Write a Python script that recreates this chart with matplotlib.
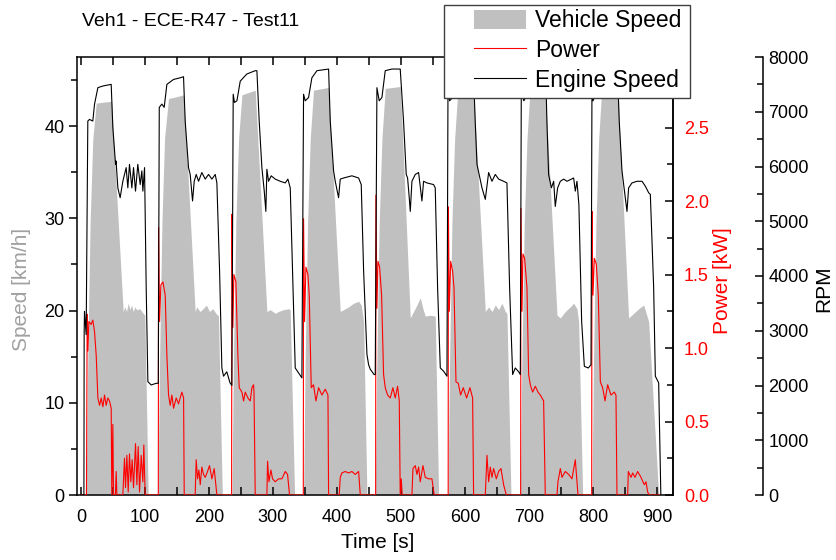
import matplotlib
matplotlib.use('Agg')
from matplotlib import pyplot as plt
from matplotlib.ticker import MultipleLocator, FormatStrFormatter
from matplotlib.patches import Patch, Rectangle
from matplotlib.lines import Line2D

plt.rcParams['font.family'] = ['Liberation Sans', 'DejaVu Sans']

# vehicle speed [km/h], read per cycle
speed_t = [0, 8.3, 10.9, 14.5, 18.7, 24, 35, 48, 50.5, 66.2, 68.8, 71.4, 74, 76.6, 79.2, 81.8, 84.4, 87, 92.2, 97.4, 100, 105.2,
           120.4, 123.1, 126.7, 130.8, 137, 150, 160.4, 163, 178.6, 181, 186, 191, 196, 201, 206, 211, 215, 221,
           236, 238.5, 242.2, 246.4, 251.6, 272.4, 275, 290.6, 295.8, 303.6, 308.9, 316.7, 324.5, 327, 333.9,
           347.9, 350.5, 354.2, 358.3, 363.5, 387, 389.6, 405.2, 410.4, 418.2, 426, 433.9, 438, 441.7, 446.9,
           459.9, 462.5, 466.1, 470.3, 475.5, 498.9, 501.6, 514.6, 519.8, 525, 530.2, 534.4, 538, 545.8, 553.6, 558.9,
           573.5, 576.1, 579.7, 583.9, 589.1, 613.5, 616.1, 631.8, 637, 642.2, 647.4, 652.6, 657.8, 663, 665.6, 671.9,
           686.5, 689.1, 692.7, 696.9, 702.1, 725.5, 728, 743.8, 749, 756.8, 764.6, 769.8, 775, 777.6, 783.9,
           798.4, 801, 804.7, 808.9, 814.1, 839.1, 841.1, 855.7, 863.5, 871.4, 879.2, 887, 902.6, 925]
speed_v = [0, 0, 15.2, 29.6, 38.6, 42.5, 42.6, 42.7, 39.4, 19.9, 20.4, 19.9, 20.8, 20.1, 20.6, 19.9, 20.4, 20.1, 20.2, 19.7, 19.5, 0,
           0, 15.2, 29.6, 38.7, 43.0, 43.2, 43.4, 40.5, 19.9, 20.4, 19.9, 20.2, 20.6, 19.9, 20.2, 19.7, 19.4, 0,
           0, 15.2, 29.6, 38.6, 43.4, 43.9, 40.5, 19.9, 20.1, 19.7, 19.9, 20.1, 20.2, 20.1, 0,
           0, 15.2, 29.6, 38.6, 43.9, 44.2, 40.5, 19.9, 20.1, 20.4, 20.8, 21.0, 20.6, 18.8, 0,
           0, 15.2, 29.6, 38.6, 44.1, 44.3, 40.5, 19.2, 19.9, 20.6, 21.4, 20.2, 19.4, 19.5, 19.4, 0,
           0, 15.2, 29.6, 38.6, 44.1, 44.3, 40.5, 19.9, 20.4, 19.9, 20.6, 20.1, 20.8, 19.9, 19.7, 0,
           0, 15.2, 29.6, 38.6, 44.5, 44.6, 40.5, 19.5, 19.2, 19.9, 20.4, 20.8, 20.2, 18.8, 0,
           0, 15.2, 29.6, 38.6, 44.5, 44.6, 40.5, 19.2, 19.7, 20.2, 20.6, 18.8, 0, 0]

# engine speed [rpm]
rpm_t = [0, 4.8, 5.2, 5.7, 8.3, 10.9, 13.5, 18.7, 21.4, 26.6, 34.4, 47.4, 50, 54.2, 55, 57.8, 61.4, 65.6, 70.8, 73.4, 76,
         79.7, 82.3, 85.4, 89, 92.7, 95.3, 96.9, 99.5, 102.1, 104.7, 109.9, 117.7,
         121, 122.5, 126.6, 130.2, 134.4, 144.8, 155.2, 160.4, 163, 168.2, 170.8, 174.5, 177.1, 180.2, 183.9, 189, 194.3,
         199.5, 204.7, 209.9, 212.5, 216.7, 220.3, 222.9, 228, 233,
         235.9, 238, 240, 243.8, 249, 259.4, 272.4, 275, 278.6, 282.8, 286.5, 289, 290.6, 293.2, 297.4, 303.6, 311.5,
         319.3, 323.4, 327.1, 330.7, 334.9, 340.1, 345.3,
         347.9, 350.5, 355.7, 360.9, 368.8, 387, 389.6, 394.8, 397.4, 402.6, 405.2, 410.4, 423.4, 433.9, 438, 441.7,
         446.9, 449.5, 452, 458,
         459.9, 462.5, 466.1, 470.3, 475.5, 485.9, 498.9, 504.1, 508.3, 510.4, 513, 514.6, 517.2, 522.4, 527.6, 532.8,
         535.4, 540.6, 551, 553.6, 557.3, 561.5, 566.7, 571.9,
         573.5, 576, 580, 584, 589, 600, 613, 616, 618.8, 626.6, 631.8, 637, 642.2, 647.4, 652.6, 660.4, 665.6, 669.8,
         674.5, 678.6, 684,
         686.5, 688, 692, 697, 702, 712, 726, 728, 730.7, 735, 738.6, 741.1, 744.8, 749, 754.2, 759.4, 769.8, 772.4,
         775, 778, 782.3, 786.5, 792.7, 796.9,
         798.4, 800, 804, 809, 814, 825, 838, 841, 845.3, 850.5, 853.1, 855.7, 860.9, 868.8, 876.6, 881.8, 887, 889.6,
         894.8, 897.4, 902.6, 906]
rpm_v = [0, 0, 2990, 3355, 2930, 6830, 6860, 6830, 7140, 7440, 7470, 7500, 6710, 6040, 6100, 5610, 5430, 5730, 5980, 5610, 6040,
         5610, 5980, 5550, 6040, 5670, 5920, 5550, 5980, 3780, 2070, 2010, 2040,
         2040, 7080, 7140, 7080, 7500, 7590, 7620, 7640, 6830, 5980, 5855, 5370, 5730, 5855, 5730, 5890, 5770,
         5855, 5770, 5855, 5700, 4100, 2320, 2170, 2250, 2050,
         2000, 7320, 7170, 7200, 7560, 7690, 7750, 7750, 6830, 5980, 5550, 5180, 5950, 5730, 5830, 5770, 5730,
         5700, 5770, 5610, 4100, 2320, 2230, 2140,
         7320, 7200, 7260, 7620, 7750, 7780, 6830, 5920, 5730, 5430, 5770, 5790, 5830, 5790, 5670, 4100,
         2570, 2380, 2300, 2200,
         2200, 7440, 7200, 7260, 7750, 7780, 7780, 6830, 5855, 5790, 5430, 5180, 5730, 5855, 5890, 5370,
         5730, 5700, 5670, 5610, 3780, 2320, 2260, 2170,
         7400, 7200, 7250, 7750, 7780, 7800, 7800, 6830, 6040, 5610, 5400, 5890, 5730, 5855, 5770, 5730, 5700, 3780,
         2200, 2320, 2250,
         2200, 7350, 7200, 7300, 7750, 7800, 7800, 6830, 5855, 5610, 5730, 5270, 5610, 5730, 5770, 5730, 5790, 5550,
         5730, 5300, 3170, 2350, 2320, 2380,
         7350, 7200, 7300, 7750, 7800, 7800, 7800, 6830, 5920, 5430, 5180, 5610, 5700, 5730, 5730, 5640, 5520, 5490,
         3780, 2170, 2050, 0]

# power [kW]
power_t = [0, 8.8, 9.9, 11, 12.5, 16.1, 18.7, 21.4, 24, 26.6, 29.2, 31.8, 34.4, 37, 39.6, 42.2, 44.8, 47.4, 48.4, 50, 51, 54,
           55.2, 56.3, 65.6, 68.2, 69.8, 71.9, 74, 76, 78.1, 80.2, 82.3, 85.4, 87.5, 89.6, 91.7, 94.3, 96.9, 98.4, 100.5,
           121, 121.4, 123, 125, 128.2, 131.8, 134.4, 137, 139.6, 142.2, 144.8, 149, 152.6, 157.8, 160.5, 161.5, 178.6,
           180.2, 182.3, 184.4, 186.5, 189, 191.7, 194.3, 197.9, 201, 204.7, 208.3, 212.5,
           235.5, 236, 237.5, 239, 242.2, 245.3, 247.4, 251.6, 254.2, 256.8, 261, 264.6, 267.2, 269.8, 270.5, 272.4, 290.6,
           291.7, 293.8, 296.9, 299.5, 303.6, 308.9, 314.1, 319.3, 322.9, 326,
           347.5, 347.9, 349.5, 351.6, 354.7, 356.8, 359.9, 363.5, 367.2, 371.4, 376.6, 381.8, 386, 387, 403.6, 405.2,
           407.8, 413, 418.2, 423.4, 428.6, 433.9, 436.5,
           460.5, 460.9, 462.5, 464.1, 466.7, 469.8, 472.9, 475.5, 479.2, 483.3, 487.5, 491.1, 494.8, 497.4, 498.9, 500.5,
           502, 517.2, 518.8, 522.4, 525, 527.6, 530.2, 534.4, 538, 543.2, 548.4, 552,
           573.8, 574.1, 575.6, 577.7, 580.8, 582.9, 586, 589.6, 593.2, 597.4, 602.6, 607.8, 612, 613.5, 631.8, 634.4,
           637, 639.6, 642.2, 644.8, 649, 652.6, 656.3, 660.4, 664.6,
           687, 687.5, 689.1, 690.6, 693.2, 696.9, 699.5, 702.1, 705.7, 709.9, 714.1, 717.7, 722.9, 725.5, 743.8, 745.3,
           749, 751.6, 756.8, 762, 767.2, 772.4, 775, 776.6,
           798, 798.4, 800, 802.1, 805.2, 808.3, 811.5, 815.1, 818.8, 822.9, 828.1, 833.3, 835.9, 837.5, 854.2, 855.2,
           859.4, 862, 865.6, 869.8, 875, 880.2, 882.8, 885.4, 888, 905]
power_v = [0, 0, 1.23, 0.98, 1.18, 1.16, 1.19, 1.11, 0.95, 0.66, 0.61, 0.66, 0.60, 0.68, 0.61, 0.66, 0.64, 0.59, 0, 0.48, 0, 0,
           0.16, 0, 0, 0.25, 0.05, 0.27, 0.02, 0.28, 0.09, 0.24, 0.05, 0.35, 0.07, 0.33, 0.02, 0.27, 0.09, 0.34, 0,
           0, 1.82, 1.18, 1.43, 1.45, 1.36, 0.95, 0.68, 0.61, 0.68, 0.59, 0.66, 0.62, 0.70, 0.66, 0, 0,
           0.24, 0.11, 0.17, 0.07, 0.19, 0.14, 0.12, 0.16, 0.20, 0.11, 0.18, 0,
           0, 1.91, 1.14, 1.50, 1.45, 0.95, 0.73, 0.70, 0.64, 0.70, 0.66, 0.64, 0.73, 0.75, 0.70, 0, 0,
           0.23, 0.09, 0.17, 0.11, 0.09, 0.11, 0.11, 0.16, 0.14, 0,
           0, 1.88, 1.18, 1.55, 1.50, 1.36, 0.73, 0.75, 0.64, 0.73, 0.68, 0.72, 0.68, 0, 0, 0.12,
           0.15, 0.16, 0.15, 0.16, 0.14, 0.16, 0,
           0, 2.04, 1.27, 1.59, 1.55, 1.36, 0.82, 0.73, 0.68, 0.66, 0.73, 0.66, 0.74, 0.64, 0, 0.11,
           0, 0, 0.18, 0.20, 0.14, 0.19, 0.09, 0.20, 0.12, 0.11, 0.11, 0,
           0, 1.96, 1.25, 1.59, 1.52, 1.41, 0.77, 0.76, 0.68, 0.73, 0.66, 0.73, 0.66, 0, 0, 0.27,
           0.09, 0.19, 0.12, 0.18, 0.11, 0.16, 0.18, 0.07, 0,
           0, 1.95, 1.25, 1.64, 1.61, 1.41, 0.82, 0.75, 0.70, 0.74, 0.70, 0.68, 0.64, 0, 0, 0.09,
           0.18, 0.12, 0.16, 0.14, 0.11, 0.24, 0.09, 0,
           0, 1.93, 1.36, 1.61, 1.57, 1.36, 0.77, 0.73, 0.64, 0.75, 0.68, 0.70, 0.68, 0, 0, 0.16,
           0.12, 0.15, 0.12, 0.16, 0.12, 0.07, 0.09, 0.02, 0, 0]

legend_labels = ['Vehicle Speed', 'Power', 'Engine Speed']
fill_col = '#C0C0C0'

fig = plt.figure(figsize=(8.37, 5.60), dpi=100)
ax = fig.add_axes([77 / 837, 65 / 560, 596 / 837, 438 / 560])
ax2 = ax.twinx()
ax3 = ax.twinx()

ax.fill_between(speed_t, speed_v, 0, color=fill_col, lw=0)
ax2.plot(power_t, power_v, color='red', lw=0.8)
ax3.plot(rpm_t, rpm_v, color='black', lw=0.8)

ax.set_xlim(-6, 925)
ax.set_ylim(0, 47.5)
ax2.set_ylim(0, 2.98)
ax3.set_ylim(0, 8000)

ax.xaxis.set_major_locator(MultipleLocator(100))
ax.xaxis.set_minor_locator(MultipleLocator(50))
ax.yaxis.set_major_locator(MultipleLocator(10))
ax.yaxis.set_minor_locator(MultipleLocator(5))
ax2.yaxis.set_major_locator(MultipleLocator(0.5))
ax2.yaxis.set_minor_locator(MultipleLocator(0.25))
ax2.yaxis.set_major_formatter(FormatStrFormatter('%.1f'))
ax3.yaxis.set_major_locator(MultipleLocator(1000))
ax3.yaxis.set_minor_locator(MultipleLocator(500))

tfs = 13
ax.tick_params(axis='x', which='both', direction='in', top=True, labelsize=tfs, pad=10, width=1.1, length=6)
ax.tick_params(axis='y', which='both', direction='out', right=False, labelsize=tfs, pad=3, width=1.1)
ax.tick_params(axis='y', which='major', length=6)
ax.tick_params(axis='y', which='minor', length=4)
ax2.tick_params(axis='y', which='both', direction='in', labelsize=tfs, labelcolor='red', pad=8, width=1.1)
ax2.tick_params(axis='y', which='major', length=6)
ax2.tick_params(axis='y', which='minor', length=4)
ax3.tick_params(axis='y', which='both', direction='in', labelsize=tfs, pad=4, width=1.1)
ax3.tick_params(axis='y', which='major', length=6)
ax3.tick_params(axis='y', which='minor', length=4)

for sp in ax.spines.values():
    sp.set_linewidth(1.1)
for name in ['left', 'top', 'bottom']:
    ax2.spines[name].set_visible(False)
    ax3.spines[name].set_visible(False)
ax2.spines['right'].set_linewidth(1.1)
ax3.spines['right'].set_position(('outward', 64.8))
ax3.spines['right'].set_linewidth(1.1)

lfs = 15
ax.set_xlabel('Time [s]', fontsize=lfs)
ax.xaxis.set_label_coords(0.505, -0.087)
ax.set_ylabel('Speed [km/h]', fontsize=lfs, color='#A0A0A0')
ax.yaxis.set_label_coords(-0.077, 0.47)
ax2.set_ylabel('Power [kW]', fontsize=lfs, color='red')
ax2.yaxis.set_label_coords(1.067, 0.49)
ax3.set_ylabel('RPM', fontsize=lfs)
ax3.yaxis.set_label_coords(1.237, 0.47)

fig.text(82 / 837, 1 - 22 / 560, 'Veh1 - ECE-R47 - Test11', fontsize=14, va='center', ha='left')

# legend frame drawn separately (Origin-style left inset)
fig.patches.append(Rectangle((444 / 837, 1 - 98 / 560), 246 / 837, 93 / 560, transform=fig.transFigure,
                             facecolor='white', edgecolor='#404040', lw=1.0, zorder=4))
handles = [Patch(facecolor=fill_col, edgecolor='none'),
           Line2D([], [], color='red', lw=0.8),
           Line2D([], [], color='black', lw=0.8)]
leg = fig.legend(handles, legend_labels, loc='upper left',
                 bbox_to_anchor=(474 / 837, 1 - 9 / 560), fontsize=16.5, frameon=False,
                 handlelength=2.25, handleheight=0.9, handletextpad=0.4, labelspacing=0.3,
                 borderpad=0, borderaxespad=0)
leg.set_zorder(5)

fig.savefig('out.png', dpi=100)
